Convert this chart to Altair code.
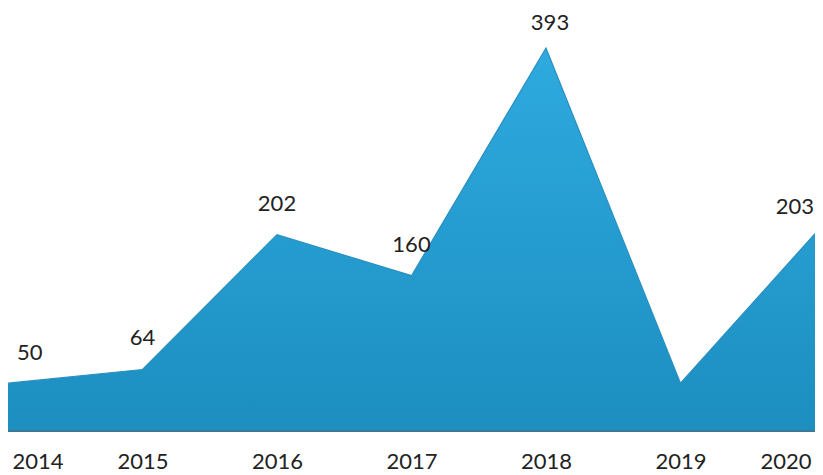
import altair as alt
import pandas as pd

years = ["2014", "2015", "2016", "2017", "2018", "2019", "2020"]
values = [50, 64, 202, 160, 393, 50, 203]
labels = ["50", "64", "202", "160", "393", "", "203"]

df = pd.DataFrame({"year": years, "value": values, "label": labels,
                   "idx": list(range(len(years)))})

FONT = "Lato"
TXT = "#222222"

x_enc = alt.X("year:O", scale=alt.Scale(type="point", padding=0),
              axis=alt.Axis(title=None, labelAngle=0, labelFlush=True,
                            labelFlushOffset=-4,
                            labelFont=FONT, labelFontSize=22, labelColor=TXT,
                            labelBaseline="middle", labelPadding=29,
                            ticks=False, tickSize=0, domain=False, grid=False))
y_enc = alt.Y("value:Q", scale=alt.Scale(domain=[0, 434], nice=False, zero=True),
              axis=None)

base = alt.Chart(df)

area = base.mark_area(
    opacity=1,
    color=alt.Gradient(
        gradient="linear",
        stops=[alt.GradientStop(color="#2eaadf", offset=0),
               alt.GradientStop(color="#1c8ec0", offset=1)],
        x1=0, x2=0, y1=0, y2=1),
    line={"color": "#2a8fbf", "strokeWidth": 1.2},
).encode(x=x_enc, y=y_enc)

bottom = alt.Chart(df).mark_rule(color="#3d7896", strokeWidth=2).encode(
    y=alt.datum(1, scale=alt.Scale(domain=[0, 434]))
)

txt_common = dict(font=FONT, fontSize=22, color=TXT, baseline="middle")

t_first = base.transform_filter("datum.idx == 0").mark_text(
    align="left", dx=9, dy=-30, **txt_common).encode(
    x=alt.X("year:O"), y=alt.Y("value:Q"), text="label:N")
t_mid = base.transform_filter("datum.idx > 0 && datum.idx < 6 && datum.idx != 4").mark_text(
    align="center", dy=-31, **txt_common).encode(
    x=alt.X("year:O"), y=alt.Y("value:Q"), text="label:N")
t_peak = base.transform_filter("datum.idx == 4").mark_text(
    align="center", dx=4, dy=-25, **txt_common).encode(
    x=alt.X("year:O"), y=alt.Y("value:Q"), text="label:N")
t_last = base.transform_filter("datum.idx == 6").mark_text(
    align="right", dx=-1, dy=-27, **txt_common).encode(
    x=alt.X("year:O"), y=alt.Y("value:Q"), text="label:N")

chart = alt.layer(area, bottom, t_first, t_mid, t_peak, t_last).resolve_scale(
    y="shared").properties(
    width=807, height=424,
    autosize=alt.AutoSizeParams(type="none"),
    padding={"left": 0, "top": 0, "right": 0, "bottom": 45},
).configure(background="white").configure_view(stroke=None)

chart.save("out.html", embed_options={"renderer": "svg", "actions": False})
